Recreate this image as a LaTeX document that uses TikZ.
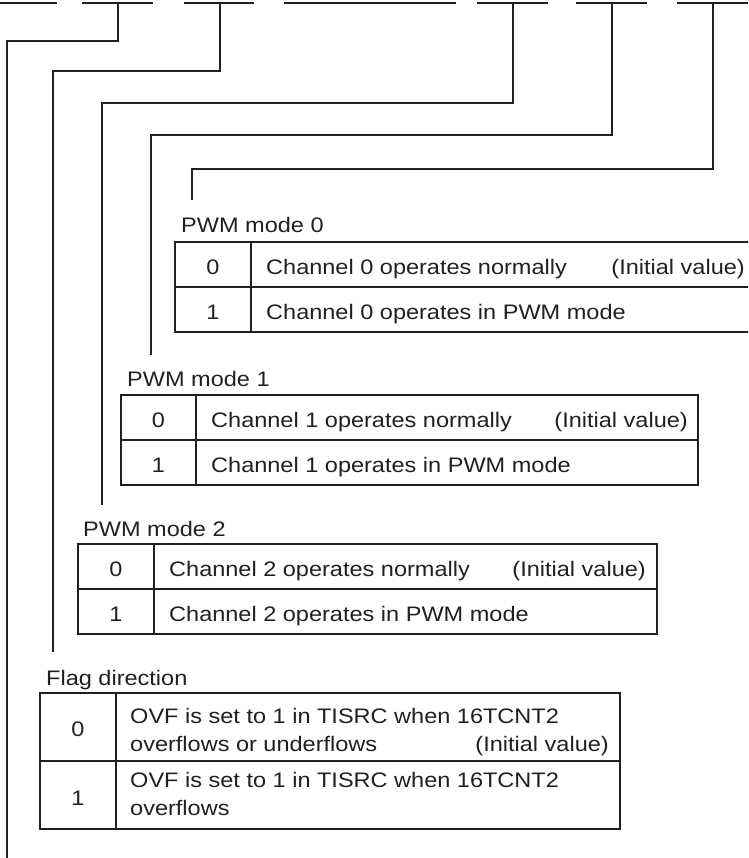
\documentclass[tikz,border=0pt]{standalone}
\usepackage{fontspec}
\setmainfont[FakeStretch=1.12]{Liberation Sans}
\definecolor{ink}{HTML}{231F20}
\begin{document}
\begin{tikzpicture}[x=1pt,y=-1pt,
  conn/.style={draw=ink, line width=1.6pt},
  tbl/.style={draw=ink, line width=1.7pt},
  txt/.style={inner sep=0pt, anchor=base west, text=ink, font=\fontsize{21}{25}\selectfont},
  rtxt/.style={inner sep=0pt, anchor=base east, text=ink, font=\fontsize{21}{25}\selectfont},
  dig/.style={inner sep=0pt, anchor=base, text=ink, font=\fontsize{21}{25}\selectfont}]
\useasboundingbox (0,0) rectangle (748,858);
\clip (0,0) rectangle (748,858);
% register bit fields
\foreach \a/\b in {-10/57, 82/153, 184/254, 284/456, 477/548, 576/647, 677/770}
  \draw[conn] (\a,3) -- (\b,3);
% connector coordinates
\coordinate (b1) at (118,3); \coordinate (k1) at (7,41);  \coordinate (e1) at (7,870);
\coordinate (b2) at (220,3); \coordinate (k2) at (53,71); \coordinate (e2) at (53,652);
\coordinate (b3) at (513,3); \coordinate (k3) at (102,103); \coordinate (e3) at (102,505);
\coordinate (b4) at (612,3); \coordinate (k4) at (151,135); \coordinate (e4) at (151,355);
\coordinate (b5) at (713,3); \coordinate (k5) at (192,169); \coordinate (e5) at (192,200);
\draw[conn] (b1) |- (k1) -- (e1);
\draw[conn] (b2) |- (k2) -- (e2);
\draw[conn] (b3) |- (k3) -- (e3);
\draw[conn] (b4) |- (k4) -- (e4);
\draw[conn] (b5) |- (k5) -- (e5);
% Table 0
\node[txt] (lab0) at (181,233) {PWM mode 0};
\draw[tbl] (175,242) rectangle (770,332);
\draw[tbl] (175,287) -- (770,287);
\draw[tbl] (251,242) -- (251,332);
\node[dig] (t0d0) at (213,274) {0};
\node[txt] (t0a) at (266,274) {Channel 0 operates normally};
\node[rtxt] (t0i) at (745,274) {(Initial value)};
\node[dig] (t0d1) at (213,319) {1};
\node[txt] (t0b) at (266,319) {Channel 0 operates in PWM mode};
% Table 1
\node[txt] (lab1) at (127,386) {PWM mode 1};
\draw[tbl] (121,395) rectangle (698,485);
\draw[tbl] (121,440) -- (698,440);
\draw[tbl] (196,395) -- (196,485);
\node[dig] (t1d0) at (158.5,427) {0};
\node[txt] (t1a) at (211,427) {Channel 1 operates normally};
\node[rtxt] (t1i) at (688,427) {(Initial value)};
\node[dig] (t1d1) at (158.5,472) {1};
\node[txt] (t1b) at (211,472) {Channel 1 operates in PWM mode};
% Table 2
\node[txt] (lab2) at (83,536) {PWM mode 2};
\draw[tbl] (78,544) rectangle (657,634);
\draw[tbl] (78,589) -- (657,589);
\draw[tbl] (154,544) -- (154,634);
\node[dig] (t2d0) at (116,576) {0};
\node[txt] (t2a) at (169,576) {Channel 2 operates normally};
\node[rtxt] (t2i) at (646,576) {(Initial value)};
\node[dig] (t2d1) at (116,621) {1};
\node[txt] (t2b) at (169,621) {Channel 2 operates in PWM mode};
% Table 3
\node[txt] (lab3) at (46,685) {Flag direction};
\draw[tbl] (40,693) rectangle (620,829);
\draw[tbl] (40,761) -- (620,761);
\draw[tbl] (116,693) -- (116,829);
\node[dig] (t3d0) at (78,736) {0};
\node[txt] (t3a1) at (130,723) {OVF is set to 1 in TISRC when 16TCNT2};
\node[txt] (t3a2) at (130,751) {overflows or underflows};
\node[rtxt] (t3i) at (609,751) {(Initial value)};
\node[dig] (t3d1) at (78,805) {1};
\node[txt] (t3b1) at (130,787) {OVF is set to 1 in TISRC when 16TCNT2};
\node[txt] (t3b2) at (130,815) {overflows};
\end{tikzpicture}
\end{document}
